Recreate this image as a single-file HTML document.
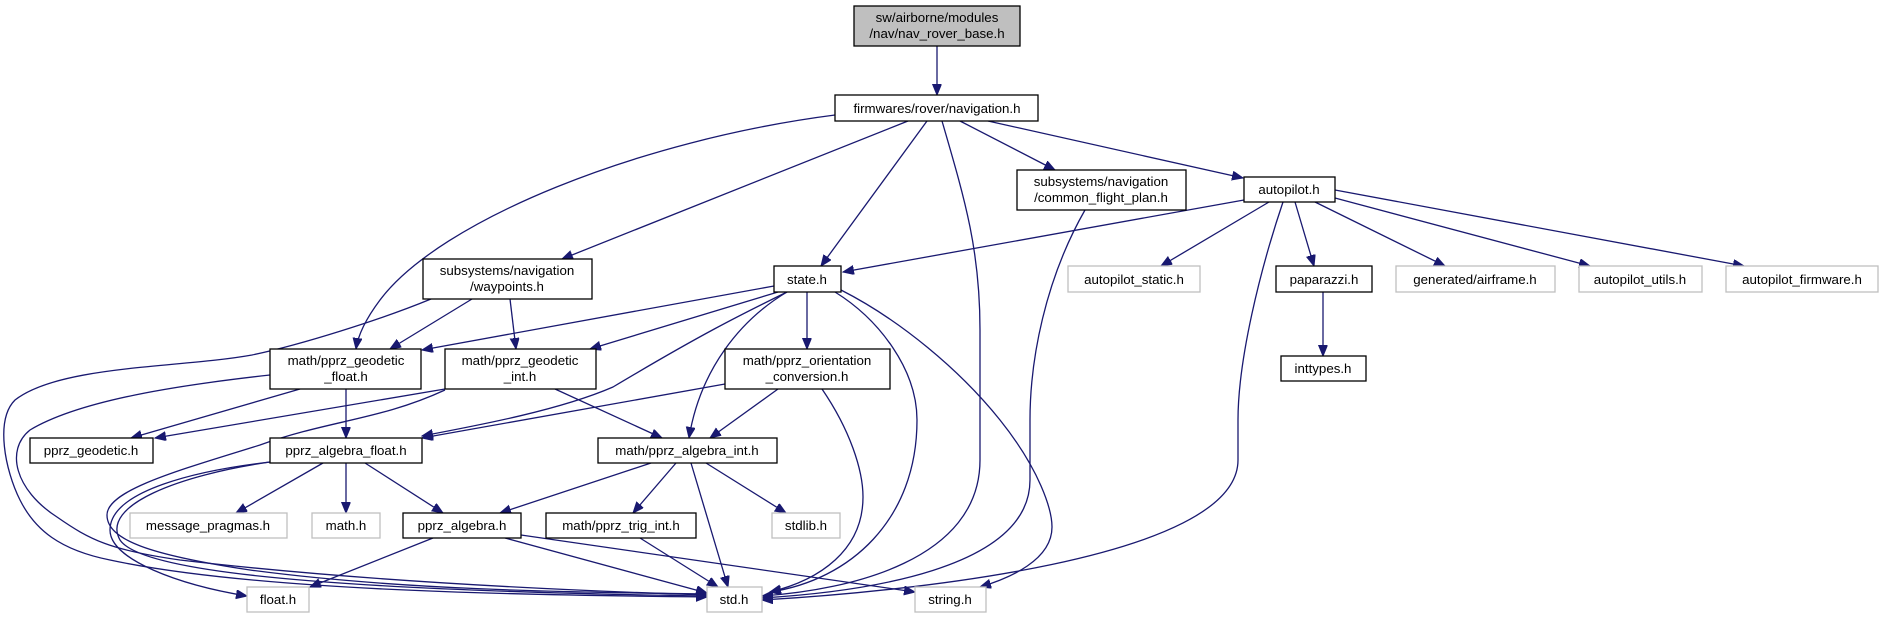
<!DOCTYPE html>
<html><head><meta charset="utf-8"><style>
html,body{margin:0;padding:0;background:#fff;}
svg{display:block;}
text{font-family:"Liberation Sans",sans-serif;font-size:13.3px;fill:#000;text-anchor:middle;}
.n{fill:#fff;stroke:#000;stroke-width:1.3;}
.g{fill:#fff;stroke:#bfbfbf;stroke-width:1.3;}
.e{fill:none;stroke:#191970;stroke-width:1.3;}
</style></head><body>
<svg width="1884" height="619" viewBox="0 0 1884 619" xmlns="http://www.w3.org/2000/svg">
<defs><marker id="a" markerWidth="12" markerHeight="10" refX="11" refY="4.5" orient="auto" markerUnits="userSpaceOnUse"><path d="M0,0 L11,4.5 L0,9 z" fill="#191970" stroke="#191970"/></marker></defs>
<g class="e" marker-end="url(#a)">
<path d="M937,46 L937,95"/>
<path d="M835,115 C640,140 440,220 380,300 C365,320 358,335 356,349"/>
<path d="M908,121 L562,259"/>
<path d="M927,121 L821,266"/>
<path d="M942,121 C965,200 980,250 980,330 L980,460 C980,560 850,590 762,596"/>
<path d="M960,121 L1055,170"/>
<path d="M988,121 L1243,178"/>
<path d="M1085,210 C1045,280 1030,360 1030,420 L1030,480 C1030,570 860,592 762,598"/>
<path d="M1244,200 L843,272"/>
<path d="M1269,202 L1161,266"/>
<path d="M1283,202 C1260,270 1238,360 1238,420 L1238,460 C1238,560 900,592 762,600"/>
<path d="M1295,202 L1314,266"/>
<path d="M1315,202 L1445,266"/>
<path d="M1335,198 L1590,266"/>
<path d="M1335,190 L1744,266"/>
<path d="M1323,292 L1323,356"/>
<path d="M431,299 C380,320 300,345 252,355 C180,368 60,365 15,400 C-5,420 5,470 20,500 C35,530 60,550 110,560 C250,590 500,595 707,597"/>
<path d="M472,299 L390,349"/>
<path d="M510,299 L516,349"/>
<path d="M774,286 L422,350"/>
<path d="M778,292 L590,349"/>
<path d="M787,292 C740,315 700,335 613,387 C560,410 480,425 422,436"/>
<path d="M787,292 C740,320 700,370 689,438"/>
<path d="M807,292 L807,349"/>
<path d="M835,292 C880,320 917,370 917,420 C917,520 850,580 770,592"/>
<path d="M841,290 C900,320 960,370 1000,420 C1040,470 1052,510 1052,527 C1052,560 1010,578 980,587"/>
<path d="M346,389 L346,438"/>
<path d="M300,389 L131,438"/>
<path d="M270,375 C180,385 80,400 30,430 C5,450 15,490 57,517 C90,540 110,550 180,560 C350,580 550,590 707,595"/>
<path d="M445,389 L155,438"/>
<path d="M445,390 C380,420 330,420 260,445 C180,470 107,490 107,515 C107,540 150,555 250,570 C400,590 560,592 707,594"/>
<path d="M555,389 L662,438"/>
<path d="M725,384 L422,438"/>
<path d="M778,389 L710,438"/>
<path d="M822,389 C850,430 863,470 863,497 C863,550 820,580 770,592"/>
<path d="M270,462 C200,470 110,490 110,530 C110,560 180,585 247,596"/>
<path d="M270,462 C180,475 100,505 120,540 C140,570 300,590 707,596"/>
<path d="M323,463 L236,513"/>
<path d="M346,463 L346,513"/>
<path d="M365,463 L443,513"/>
<path d="M651,463 L500,513"/>
<path d="M676,463 L633,513"/>
<path d="M691,463 L728,587"/>
<path d="M706,463 L786,513"/>
<path d="M433,538 L310,587"/>
<path d="M505,538 L707,593"/>
<path d="M521,535 L915,592"/>
<path d="M640,538 L718,587"/>
</g>
<rect x="854" y="6" width="166" height="40" fill="#bfbfbf" stroke="#000" stroke-width="1.3"/>
<text x="937" y="22">sw/airborne/modules</text><text x="937" y="38">/nav/nav_rover_base.h</text>
<rect class="n" x="835" y="95" width="203" height="26"/><text x="937" y="113">firmwares/rover/navigation.h</text>
<rect class="n" x="1017" y="170" width="169" height="40"/><text x="1101" y="186">subsystems/navigation</text><text x="1101" y="202">/common_flight_plan.h</text>
<rect class="n" x="1244" y="177" width="91" height="25"/><text x="1289" y="194">autopilot.h</text>
<rect class="n" x="774" y="266" width="67" height="26"/><text x="807" y="284">state.h</text>
<rect class="g" x="1068" y="266" width="132" height="26"/><text x="1134" y="284">autopilot_static.h</text>
<rect class="n" x="1276" y="266" width="96" height="26"/><text x="1324" y="284">paparazzi.h</text>
<rect class="g" x="1396" y="266" width="159" height="26"/><text x="1475" y="284">generated/airframe.h</text>
<rect class="g" x="1579" y="266" width="123" height="26"/><text x="1640" y="284">autopilot_utils.h</text>
<rect class="g" x="1726" y="266" width="152" height="26"/><text x="1802" y="284">autopilot_firmware.h</text>
<rect class="n" x="1281" y="356" width="85" height="25"/><text x="1323" y="373">inttypes.h</text>
<rect class="n" x="423" y="259" width="169" height="40"/><text x="507" y="275">subsystems/navigation</text><text x="507" y="291">/waypoints.h</text>
<rect class="n" x="270" y="349" width="151" height="40"/><text x="346" y="365">math/pprz_geodetic</text><text x="346" y="381">_float.h</text>
<rect class="n" x="445" y="349" width="151" height="40"/><text x="520" y="365">math/pprz_geodetic</text><text x="520" y="381">_int.h</text>
<rect class="n" x="725" y="349" width="165" height="40"/><text x="807" y="365">math/pprz_orientation</text><text x="807" y="381">_conversion.h</text>
<rect class="n" x="30" y="438" width="123" height="25"/><text x="91" y="455">pprz_geodetic.h</text>
<rect class="n" x="270" y="438" width="152" height="25"/><text x="346" y="455">pprz_algebra_float.h</text>
<rect class="n" x="598" y="438" width="179" height="25"/><text x="687" y="455">math/pprz_algebra_int.h</text>
<rect class="g" x="130" y="513" width="157" height="25"/><text x="208" y="530">message_pragmas.h</text>
<rect class="g" x="312" y="513" width="68" height="25"/><text x="346" y="530">math.h</text>
<rect class="n" x="403" y="513" width="118" height="25"/><text x="462" y="530">pprz_algebra.h</text>
<rect class="n" x="546" y="513" width="150" height="25"/><text x="621" y="530">math/pprz_trig_int.h</text>
<rect class="g" x="772" y="513" width="68" height="25"/><text x="806" y="530">stdlib.h</text>
<rect class="g" x="247" y="587" width="62" height="25"/><text x="278" y="604">float.h</text>
<rect class="g" x="707" y="587" width="55" height="25"/><text x="734" y="604">std.h</text>
<rect class="g" x="915" y="587" width="71" height="25"/><text x="950" y="604">string.h</text>
</svg>
</body></html>
